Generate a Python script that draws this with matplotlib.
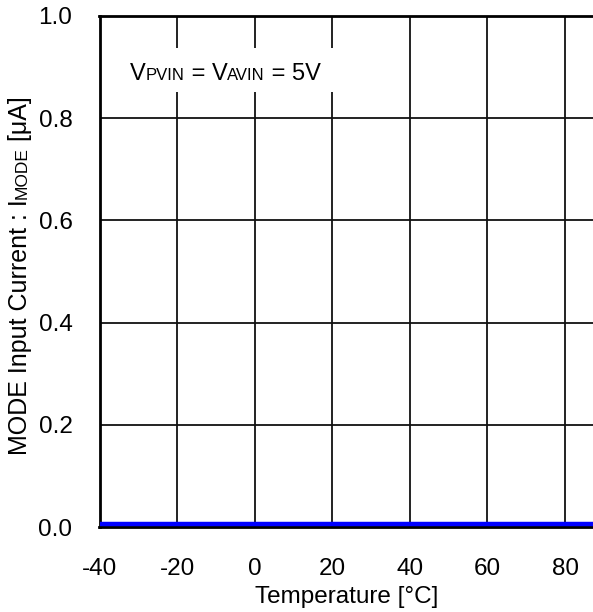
import matplotlib.pyplot as plt
import matplotlib.patches as mpatches
from matplotlib.offsetbox import TextArea, HPacker, AnchoredOffsetbox

plt.rcParams['font.family'] = ['Liberation Sans', 'DejaVu Sans']

# measured data: MODE input current vs temperature (essentially zero)
temps = [-40, -30, -10, 10, 25, 50, 70, 85, 90]
i_mode = [0.005, 0.005, 0.005, 0.005, 0.005, 0.005, 0.005, 0.005, 0.005]

xticks = [-40, -20, 0, 20, 40, 60, 80]
yticks = [0.0, 0.2, 0.4, 0.6, 0.8, 1.0]

W, H = 593, 612
BIG, SMALL = 17, 12

fig = plt.figure(figsize=(W / 100, H / 100), dpi=100)
ax = fig.add_axes([99.5 / W, (H - 527) / H, (W - 99.5) / W, 511 / H])

ax.plot(temps, i_mode, color='#0000ff', lw=3.2, zorder=3, solid_capstyle='butt')

ax.set_xlim(-40, 87.2)
ax.set_ylim(0, 1.0)
ax.set_xticks(xticks)
ax.set_xticklabels([str(t) for t in xticks])
ax.set_yticks(yticks)
ax.set_yticklabels(['%.1f' % v for v in yticks])
ax.tick_params(length=0, labelsize=17.5)
ax.tick_params(axis='y', pad=19.5)
ax.tick_params(axis='x', pad=22)
ax.grid(True, color='#111111', lw=1.3)
ax.set_axisbelow(True)

for side in ['left', 'top', 'bottom']:
    ax.spines[side].set_linewidth(2.0)
    ax.spines[side].set_color('black')
ax.spines['right'].set_visible(False)

ax.set_xlabel('Temperature [°C]', fontsize=17.5, labelpad=5)

# white box behind condition label
ax.add_patch(mpatches.Rectangle((0.003, 0.851), 0.494, 0.086, transform=ax.transAxes,
                                facecolor='white', edgecolor='none', zorder=1.5))
parts = [('V', BIG), ('PVIN', SMALL), (' = V', BIG), ('AVIN', SMALL), (' = 5V', BIG)]
box = HPacker(children=[TextArea(s, textprops=dict(fontsize=fs, family=['Liberation Sans']))
                        for s, fs in parts],
              align='baseline', pad=0, sep=0)
anc = AnchoredOffsetbox(loc='center', child=box, frameon=False, pad=0, borderpad=0,
                        bbox_to_anchor=(0.255, 0.887), bbox_transform=ax.transAxes)
anc.set_zorder(4)
ax.add_artist(anc)

# y label built from pieces so the small "MODE" sits on the baseline
ylab = [('MODE Input Current : I', 18), ('MODE', 12.5), (' [μA]', 18)]
renderer = fig.canvas.get_renderer()
texts = []
for s, fs in ylab:
    t = fig.text(0, 0, s, fontsize=fs, rotation=90, rotation_mode='anchor',
                 ha='left', va='baseline')
    texts.append(t)
lengths = [t.get_window_extent(renderer).height for t in texts]
base_x = 27
y = (H - 275.5) - sum(lengths) / 2
for t, L in zip(texts, lengths):
    t.set_position((base_x / W, y / H))
    y += L

fig.savefig('out.png', dpi=100)
